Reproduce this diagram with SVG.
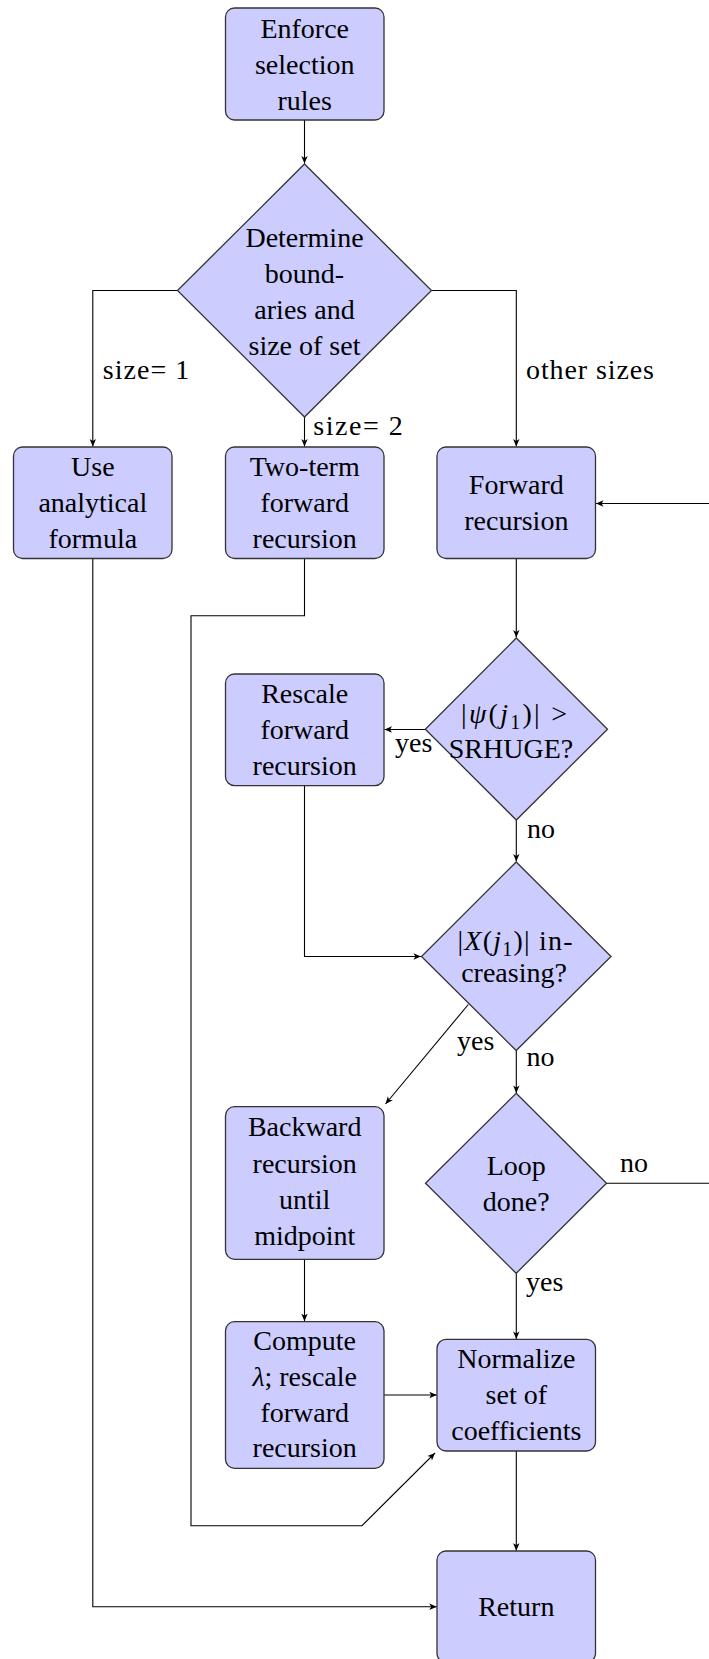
<svg xmlns="http://www.w3.org/2000/svg" width="709" height="1659" viewBox="0 0 709 1659">
<style>
  .box { fill: #ccccff; stroke: #333333; stroke-width: 1.3; }
  .t { font-family: "Liberation Serif", "Times New Roman", serif; font-size: 28px; fill: #000000; text-anchor: middle; }
  .l { font-family: "Liberation Serif", "Times New Roman", serif; font-size: 28px; fill: #000000; }
  .m { font-style: italic; }
  .sub { font-size: 20px; }
  .c { fill: none; stroke: #000000; stroke-width: 1.1; }
</style>
<defs>
  <marker id="arr" viewBox="-8 -4 9 8" refX="0" refY="0" markerWidth="9" markerHeight="8" markerUnits="userSpaceOnUse" orient="auto">
    <path d="M0,0 L-7.5,-3.2 L-5.6,0 L-7.5,3.2 Z" fill="#000000"/>
  </marker>
</defs>
<rect width="709" height="1659" fill="#ffffff"/>

<g id="connectors">
  <path class="c" d="M304.5,120 L304.5,163.5" marker-end="url(#arr)"/>
  <path class="c" d="M177.5,290.5 L92.8,290.5 L92.8,446.5" marker-end="url(#arr)"/>
  <path class="c" d="M304.5,417 L304.5,446.5" marker-end="url(#arr)"/>
  <path class="c" d="M431.5,290.5 L516.3,290.5 L516.3,446.5" marker-end="url(#arr)"/>
  <path class="c" d="M516.3,558.5 L516.3,637.5" marker-end="url(#arr)"/>
  <path class="c" d="M425.5,729.5 L384.5,729.5" marker-end="url(#arr)"/>
  <path class="c" d="M516.3,820 L516.3,861.5" marker-end="url(#arr)"/>
  <path class="c" d="M304.5,785.7 L304.5,956.5 L421,956.5" marker-end="url(#arr)"/>
  <path class="c" d="M468.3,1004.5 L385.5,1104" marker-end="url(#arr)"/>
  <path class="c" d="M516.3,1050.5 L516.3,1093" marker-end="url(#arr)"/>
  <path class="c" d="M606.5,1183.3 L725,1183.3 L725,503.5 L596,503.5" marker-end="url(#arr)"/>
  <path class="c" d="M516.3,1273.3 L516.3,1339" marker-end="url(#arr)"/>
  <path class="c" d="M304.5,1259.3 L304.5,1321.2" marker-end="url(#arr)"/>
  <path class="c" d="M384,1395 L436.8,1395" marker-end="url(#arr)"/>
  <path class="c" d="M304.5,558.5 L304.5,615.7 L191,615.7 L191,1525.7 L362,1525.7 L435,1453" marker-end="url(#arr)"/>
  <path class="c" d="M92.8,558.5 L92.8,1606.7 L436.8,1606.7" marker-end="url(#arr)"/>
  <path class="c" d="M516.3,1451 L516.3,1550.7" marker-end="url(#arr)"/>
</g>

<g id="edge-labels">
  <text class="l" x="102.7" y="379.3" textLength="86.6" lengthAdjust="spacing">size= 1</text>
  <text class="l" x="313.3" y="435" textLength="89.4" lengthAdjust="spacing">size= 2</text>
  <text class="l" x="526" y="378.5" textLength="128" lengthAdjust="spacing">other sizes</text>
  <text class="l" x="395" y="751.5">yes</text>
  <text class="l" x="527" y="838">no</text>
  <text class="l" x="457" y="1049.5">yes</text>
  <text class="l" x="526.5" y="1066">no</text>
  <text class="l" x="620" y="1172">no</text>
  <text class="l" x="526" y="1291">yes</text>
</g>

<g id="enforce">
  <rect class="box" x="225.5" y="8" width="158.5" height="112" rx="9"/>
  <text class="t" x="304.7" y="38">Enforce</text>
  <text class="t" x="304.7" y="74">selection</text>
  <text class="t" x="304.7" y="110">rules</text>
</g>

<g id="determine">
  <polygon class="box" points="304.5,164 431.5,290.5 304.5,417 177.5,290.5"/>
  <text class="t" x="304.5" y="246.5">Determine</text>
  <text class="t" x="304.5" y="282.5">bound-</text>
  <text class="t" x="304.5" y="318.5">aries and</text>
  <text class="t" x="304.5" y="354.5">size of set</text>
</g>

<g id="analytical">
  <rect class="box" x="13.5" y="447" width="158.5" height="111.5" rx="9"/>
  <text class="t" x="92.8" y="475.5">Use</text>
  <text class="t" x="92.8" y="511.5">analytical</text>
  <text class="t" x="92.8" y="547.5">formula</text>
</g>

<g id="twoterm">
  <rect class="box" x="225.5" y="447" width="158.5" height="111.5" rx="9"/>
  <text class="t" x="304.7" y="475.5">Two-term</text>
  <text class="t" x="304.7" y="511.5">forward</text>
  <text class="t" x="304.7" y="547.5">recursion</text>
</g>

<g id="forward">
  <rect class="box" x="437" y="447" width="158.5" height="111.5" rx="9"/>
  <text class="t" x="516.3" y="493.5">Forward</text>
  <text class="t" x="516.3" y="529.5">recursion</text>
</g>

<g id="psi">
  <polygon class="box" points="516.3,638 607.5,729.2 516.3,820 425.3,729.2"/>
  <text class="t" x="514" y="723" textLength="106" lengthAdjust="spacing">|<tspan class="m">ψ</tspan>(<tspan class="m">j</tspan><tspan class="sub" dy="6">1</tspan><tspan dy="-6">)| &gt;</tspan></text>
  <text class="t" x="511" y="757.5">SRHUGE?</text>
</g>

<g id="rescale">
  <rect class="box" x="225.5" y="674" width="158.5" height="111.7" rx="9"/>
  <text class="t" x="304.7" y="703.3">Rescale</text>
  <text class="t" x="304.7" y="739">forward</text>
  <text class="t" x="304.7" y="774.5">recursion</text>
</g>

<g id="increasing">
  <polygon class="box" points="516.2,862 611,956.5 516.2,1050.5 421.5,956.5"/>
  <text class="t" x="515" y="950" textLength="115" lengthAdjust="spacing">|<tspan class="m">X</tspan>(<tspan class="m">j</tspan><tspan class="sub" dy="6">1</tspan><tspan dy="-6">)| in-</tspan></text>
  <text class="t" x="514" y="982">creasing?</text>
</g>

<g id="loop">
  <polygon class="box" points="516.2,1093.3 606.5,1183.3 516.2,1273.3 425.5,1183.3"/>
  <text class="t" x="516.2" y="1174.5">Loop</text>
  <text class="t" x="516.2" y="1210.5">done?</text>
</g>

<g id="backward">
  <rect class="box" x="225.5" y="1106.7" width="158.5" height="152.6" rx="9"/>
  <text class="t" x="304.7" y="1136">Backward</text>
  <text class="t" x="304.7" y="1172.5">recursion</text>
  <text class="t" x="304.7" y="1209">until</text>
  <text class="t" x="304.7" y="1245">midpoint</text>
</g>

<g id="compute">
  <rect class="box" x="225.5" y="1321.7" width="158.5" height="146.6" rx="9"/>
  <text class="t" x="304.7" y="1350">Compute</text>
  <text class="t" x="304.7" y="1386"><tspan class="m">λ</tspan>; rescale</text>
  <text class="t" x="304.7" y="1421.7">forward</text>
  <text class="t" x="304.7" y="1457.3">recursion</text>
</g>

<g id="normalize">
  <rect class="box" x="437" y="1339.3" width="158.5" height="111.7" rx="9"/>
  <text class="t" x="516.3" y="1368.3">Normalize</text>
  <text class="t" x="516.3" y="1404">set of</text>
  <text class="t" x="516.3" y="1440">coefficients</text>
</g>

<g id="return">
  <rect class="box" x="437" y="1551" width="158.5" height="111.5" rx="9"/>
  <text class="t" x="516.3" y="1615.7">Return</text>
</g>
</svg>
